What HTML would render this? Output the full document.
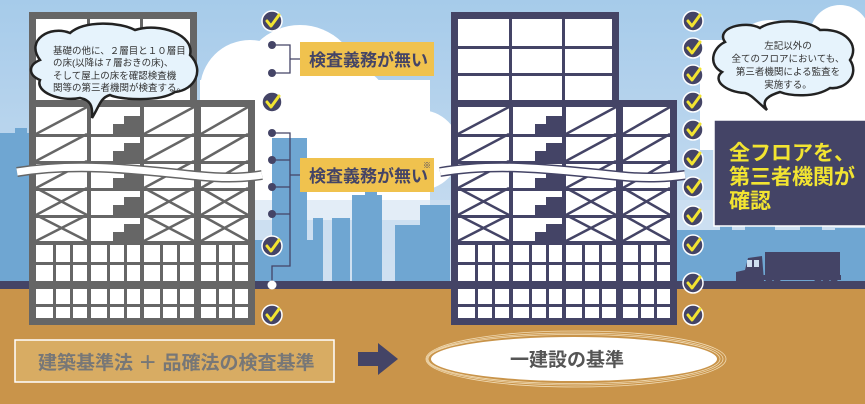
<!DOCTYPE html>
<html><head><meta charset="utf-8"><style>
html,body{margin:0;padding:0;width:865px;height:404px;overflow:hidden;background:#a9cdeb}
svg{display:block}
text{font-family:"Liberation Sans","Noto Sans CJK JP",sans-serif}
</style></head><body>
<svg width="865" height="404" viewBox="0 0 865 404" xmlns="http://www.w3.org/2000/svg">
<defs>
<linearGradient id="sky" x1="0" y1="0" x2="0" y2="1"><stop offset="0" stop-color="#a6cbea"/><stop offset="1" stop-color="#cfe0f1"/></linearGradient>
<symbol id="bld" overflow="visible">
 <rect x="0" y="0" width="168" height="95" fill="currentColor"/>
 <rect x="7" y="7" width="154" height="85" fill="#fff"/>
 <rect x="7" y="34" width="154" height="3" fill="currentColor"/>
 <rect x="7" y="61" width="154" height="3" fill="currentColor"/>
 <rect x="58" y="7" width="3" height="85" fill="currentColor"/>
 <rect x="111" y="7" width="3" height="85" fill="currentColor"/>
 <rect x="0" y="88" width="226" height="225" fill="currentColor"/>
 <rect x="7" y="95" width="212" height="211" fill="#fff"/>
 <g fill="currentColor">
  <rect x="7" y="122" width="212" height="3"/><rect x="7" y="149" width="212" height="3"/>
  <rect x="7" y="176" width="212" height="3"/><rect x="7" y="203" width="212" height="3"/>
  <rect x="7" y="229" width="212" height="4"/>
  <rect x="58" y="95" width="4" height="211"/><rect x="111" y="95" width="4" height="211"/>
  <rect x="165" y="95" width="7" height="211"/>
  <rect x="7" y="250" width="212" height="3"/><rect x="7" y="269" width="212" height="8"/>
  <rect x="7" y="292" width="212" height="3"/>
  <rect x="24" y="231" width="3" height="75"/><rect x="41" y="231" width="3" height="75"/>
  <rect x="78" y="231" width="3" height="75"/><rect x="95" y="231" width="3" height="75"/>
  <rect x="131" y="231" width="3" height="75"/><rect x="148" y="231" width="3" height="75"/>
  <rect x="187" y="231" width="3" height="75"/><rect x="203" y="231" width="3" height="75"/>
  <!-- stairs -->
  <rect x="84" y="112" width="28" height="10"/><rect x="95" y="104" width="17" height="8"/>
  <rect x="84" y="139" width="28" height="10"/><rect x="95" y="131" width="17" height="8"/>
  <rect x="84" y="166" width="28" height="10"/><rect x="95" y="158" width="17" height="8"/>
  <rect x="84" y="193" width="28" height="10"/><rect x="95" y="185" width="17" height="8"/>
  <rect x="84" y="220" width="28" height="10"/><rect x="95" y="212" width="17" height="8"/>
 </g>
 <g stroke="currentColor" stroke-width="2.5">
  <path d="M7 122L58 95M115 122L165 95M172 122L219 95M7 149L58 122M115 149L165 122M172 149L219 122M7 176L58 149M115 176L165 149M172 176L219 149"/>
  <path d="M7 203L58 176M7 176L58 203M115 203L165 176M115 176L165 203M172 203L219 176M172 176L219 203"/>
  <path d="M7 229L58 203M7 203L58 229M115 229L165 203M115 203L165 229M172 229L219 203M172 203L219 229"/>
 </g>
</symbol>
<symbol id="chk" overflow="visible">
 <circle cx="0" cy="0" r="10" fill="#444466" stroke="#fff" stroke-width="1.5"/>
 <path d="M-5 0L-1 5L7 -6" fill="none" stroke="#f2e431" stroke-width="3" stroke-linecap="round" stroke-linejoin="round"/>
</symbol>
</defs>
<rect width="865" height="290" fill="url(#sky)"/>
<!-- clouds -->
<g fill="#fff">
 <circle cx="250" cy="90" r="50"/><circle cx="300" cy="85" r="60"/><circle cx="345" cy="110" r="45"/>
 <rect x="200" y="80" width="230" height="140"/><circle cx="420" cy="150" r="40"/>
 <circle cx="470" cy="150" r="30"/>
 <circle cx="770" cy="60" r="40"/><circle cx="840" cy="35" r="30"/><rect x="700" y="40" width="165" height="110"/>
 <circle cx="730" cy="70" r="30"/>
</g>
<rect x="0" y="200" width="865" height="90" fill="#d1e1f1" opacity=".6"/>
<!-- city -->
<g fill="#6fa6d2">
 <rect x="0" y="133" width="30" height="157"/><rect x="15" y="128" width="12" height="10"/>
 <rect x="255" y="240" width="60" height="50"/>
 <rect x="272" y="138" width="35" height="152"/>
 <rect x="313" y="218" width="10" height="72"/><rect x="332" y="218" width="18" height="72"/>
 <rect x="352" y="195" width="30" height="95"/><rect x="365" y="190" width="12" height="8"/>
 <rect x="395" y="225" width="30" height="65"/><rect x="420" y="205" width="30" height="85"/>
 <rect x="677" y="230" width="190" height="60"/>
 <rect x="720" y="225" width="12" height="60"/><rect x="745" y="220" width="30" height="70"/>
 <rect x="800" y="222" width="22" height="70"/><rect x="835" y="228" width="30" height="60"/>
</g>
<!-- ground -->
<rect x="0" y="289" width="865" height="115" fill="#c9944a"/>
<rect x="0" y="281" width="865" height="8" fill="#444466"/>
<!-- truck -->
<g fill="#444466">
 <rect x="765" y="252" width="75" height="25"/>
 <path d="M736 281L736 272L745 270L748 258L762 256L764 281Z"/>
 <rect x="736" y="275" width="105" height="5"/>
 <circle cx="742" cy="280" r="3.5"/><circle cx="769" cy="280" r="3.5"/><circle cx="777" cy="280" r="3.5"/>
 <circle cx="818" cy="280" r="3.5"/><circle cx="826" cy="280" r="3.5"/><circle cx="834" cy="280" r="3.5"/>
</g>
<rect x="747" y="260" width="5" height="7" fill="#cfe0f1"/><rect x="754" y="260" width="5" height="7" fill="#cfe0f1"/>
<!-- buildings -->
<use href="#bld" x="29" y="12" color="#666666"/>
<use href="#bld" x="451" y="12" color="#444466"/>
<!-- cut waves -->
<path d="M17 172C80 162 140 170 200 176C230 179 250 177 262 175" fill="none" stroke="#666" stroke-width="10"/>
<path d="M17 172C80 162 140 170 200 176C230 179 250 177 262 175" fill="none" stroke="#fff" stroke-width="7"/>
<path d="M440 172C500 162 560 170 620 176C650 179 670 177 685 175" fill="none" stroke="#444466" stroke-width="10"/>
<path d="M440 172C500 162 560 170 620 176C650 179 670 177 685 175" fill="none" stroke="#fff" stroke-width="7"/>
<!-- left bubble -->
<path d="M40 60C25 40 50 25 70 33C85 20 120 22 135 30C160 22 195 35 190 55C205 70 195 90 175 92C160 102 120 100 110 95C100 98 100 105 92 118C93 105 90 100 80 98C60 102 35 92 40 80C28 75 28 65 40 60Z" fill="#e6f3fc" stroke="#222" stroke-width="2.5"/>
<g font-size="9.5" fill="#333">
 <text x="53" y="54">基礎の他に、２層目と１０層目</text>
 <text x="53" y="66">の床(以降は７層おきの床)、</text>
 <text x="53" y="79">そして屋上の床を確認検査機</text>
 <text x="53" y="91">関等の第三者機関が検査する。</text>
</g>
<!-- right bubble -->
<path d="M725 42C715 28 745 20 760 28C775 18 810 20 820 30C845 28 860 45 850 60C860 75 845 90 830 88C815 98 790 96 780 92C770 95 760 100 767 110C755 100 752 95 745 93C725 92 712 80 722 72C708 65 712 48 725 42Z" fill="#e6f3fc" stroke="#222" stroke-width="2.5"/>
<g font-size="9.5" fill="#333" text-anchor="middle">
 <text x="788" y="49">左記以外の</text>
 <text x="788" y="62">全てのフロアにおいても、</text>
 <text x="788" y="75">第三者機関による監査を</text>
 <text x="788" y="88">実施する。</text>
</g>
<!-- left brackets -->
<g stroke="#444466" stroke-width="1.3" fill="none">
 <path d="M272 45H290V73H272M290 59H300"/>
 <path d="M272 133H290V266H272V285M272 160H290M272 187H290M272 214H290M290 175H300"/>
</g>
<g fill="#444466"><circle cx="272" cy="45" r="4"/><circle cx="272" cy="73" r="4"/><circle cx="272" cy="133" r="4"/><circle cx="272" cy="160" r="4"/><circle cx="272" cy="187" r="4"/><circle cx="272" cy="214" r="4"/></g>
<circle cx="272" cy="285" r="4.5" fill="#fff"/>
<use href="#chk" x="272" y="21"/><use href="#chk" x="272" y="102"/><use href="#chk" x="272" y="246"/><use href="#chk" x="272" y="315"/>
<rect x="300" y="42" width="134" height="34" fill="#f0c24e"/>
<rect x="300" y="158" width="134" height="34" fill="#f0c24e"/>
<g font-size="17" font-weight="bold" fill="#444466">
 <text x="309" y="66">検査義務が無い</text><text x="309" y="182">検査義務が無い</text>
</g>
<text x="423" y="168" font-size="8" fill="#444466">※</text>
<!-- right checks -->
<use href="#chk" x="693" y="21"/><use href="#chk" x="693" y="48"/><use href="#chk" x="693" y="75"/><use href="#chk" x="693" y="102"/><use href="#chk" x="693" y="130"/><use href="#chk" x="693" y="159"/><use href="#chk" x="693" y="187"/><use href="#chk" x="693" y="216"/><use href="#chk" x="693" y="245"/><use href="#chk" x="693" y="283"/><use href="#chk" x="693" y="315"/>
<!-- dark box -->
<rect x="714" y="120" width="155" height="106" fill="#444466" stroke="#fff" stroke-width="1.5"/>
<g font-size="21" font-weight="bold" fill="#f2e431">
 <text x="729" y="160">全フロアを、</text><text x="729" y="184">第三者機関が</text><text x="729" y="208">確認</text>
</g>
<!-- bottom -->
<rect x="15" y="340" width="319" height="42" fill="#d8ac63" stroke="#fff" stroke-width="1.5"/>
<text x="38" y="369" font-size="19" font-weight="bold" fill="#777">建築基準法 ＋ 品確法の検査基準</text>
<path d="M358 352H378V343L398 359L378 375V366H358Z" fill="#444466"/>
<g fill="none" stroke="#f1dcb6" stroke-width="0.8">
 <ellipse cx="576" cy="359" rx="150" ry="28"/><ellipse cx="575" cy="359" rx="148" ry="26"/><ellipse cx="574" cy="359" rx="146" ry="24.5"/>
</g>
<ellipse cx="574" cy="359" rx="143" ry="22" fill="#fff"/>
<text x="510" y="366" font-size="19" font-weight="bold" fill="#555">一建設の基準</text>
</svg>
</body></html>
